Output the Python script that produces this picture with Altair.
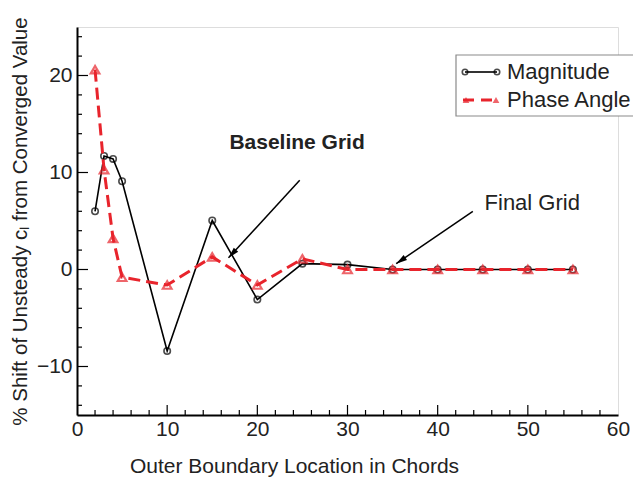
import altair as alt
import pandas as pd

# Outer boundary distance (chords) and % shift of unsteady lift coefficient
boundary = [2, 3, 4, 5, 10, 15, 20, 25, 30, 35, 40, 45, 50, 55]
magnitude = [6.0, 11.7, 11.4, 9.1, -8.4, 5.05, -3.1, 0.6, 0.5, 0.0, 0.0, 0.0, 0.0, 0.0]
phase_angle = [20.6, 10.3, 3.2, -0.8, -1.6, 1.3, -1.6, 1.1, 0.0, 0.0, 0.0, 0.0, 0.0, 0.0]

x_labels = [0, 10, 20, 30, 40, 50, 60]
y_labels = [-10, 0, 10, 20]
x_minor = list(range(2, 60, 2))
y_minor = list(range(-14, 25, 2))

W, H = 541, 388
FONT = "Liberation Sans"
INK = "#222222"
RED = "#e8242c"

df = pd.DataFrame({"x": boundary, "mag": magnitude, "phase": phase_angle})

xs = alt.Scale(domain=[0, 60], nice=False, zero=False)
ys = alt.Scale(domain=[-15, 25], nice=False, zero=False)

x_axis = alt.Axis(
    values=x_labels, ticks=False, grid=False, domainColor="black", domainWidth=2,
    labelFont=FONT, labelFontSize=21, labelColor=INK, labelPadding=3, labelFlush=False,
    title="Outer Boundary Location in Chords", titleFont=FONT, titleFontSize=21,
    titleFontWeight="normal", titleColor=INK, titleX=217, titleY=51,
    titleAlign="center", titleBaseline="middle",
)
y_axis = alt.Axis(
    values=y_labels, ticks=False, grid=False, domainColor="black", domainWidth=2,
    labelFont=FONT, labelFontSize=21, labelColor=INK, labelPadding=5, labelFlush=False,
    title="% Shift of Unsteady cₗ from Converged Value", titleFont=FONT,
    titleFontSize=20.5, titleFontWeight="normal", titleColor=INK, titleAngle=-90,
    titleX=-57, titleY=194, titleAlign="center", titleBaseline="middle",
)

base = alt.Chart(df)

mag_line = base.mark_line(color="black", strokeWidth=1.6).encode(
    x=alt.X("x:Q", scale=xs, axis=x_axis),
    y=alt.Y("mag:Q", scale=ys, axis=y_axis),
)
mag_pts = base.mark_point(shape="circle", filled=False, color="black", size=42, strokeWidth=1.6).encode(
    x=alt.X("x:Q", scale=xs), y=alt.Y("mag:Q", scale=ys)
)
ph_line = base.mark_line(color=RED, strokeWidth=3, strokeDash=[12, 6]).encode(
    x=alt.X("x:Q", scale=xs), y=alt.Y("phase:Q", scale=ys)
)
ph_pts = base.mark_point(shape="triangle-up", filled=False, color=RED, size=75, strokeWidth=2.2).encode(
    x=alt.X("x:Q", scale=xs), y=alt.Y("phase:Q", scale=ys)
)

# inward tick marks: long at multiples of 10, short elsewhere
xt = pd.DataFrame({"v": x_minor})
yt = pd.DataFrame({"v": y_minor})
x_major = xt[xt["v"] % 10 == 0]
x_short = xt[xt["v"] % 10 != 0]
y_major = yt[yt["v"] % 10 == 0]
y_short = yt[yt["v"] % 10 != 0]

x_ticks_minor = alt.Chart(x_short).mark_rule(color="black", strokeWidth=1.2).encode(
    x=alt.X("v:Q", scale=xs), y=alt.value(H), y2=alt.value(H - 5)
)
x_ticks_major = alt.Chart(x_major).mark_rule(color="black", strokeWidth=1.2).encode(
    x=alt.X("v:Q", scale=xs), y=alt.value(H), y2=alt.value(H - 10)
)
y_ticks_minor = alt.Chart(y_short).mark_rule(color="black", strokeWidth=1.2).encode(
    y=alt.Y("v:Q", scale=ys), x=alt.value(0), x2=alt.value(5)
)
y_ticks_major = alt.Chart(y_major).mark_rule(color="black", strokeWidth=1.2).encode(
    y=alt.Y("v:Q", scale=ys), x=alt.value(0), x2=alt.value(11)
)

# annotation arrows (tail -> head, data units)
arrows = pd.DataFrame({
    "x0": [24.7, 43.9], "y0": [9.2, 6.0],
    "x1": [16.8, 35.4], "y1": [1.2, 0.6],
    "ang": [223, 236],
})
arrow_shaft = alt.Chart(arrows).mark_rule(color="black", strokeWidth=1.5).encode(
    x=alt.X("x0:Q", scale=xs), y=alt.Y("y0:Q", scale=ys), x2="x1:Q", y2="y1:Q"
)
arrow_head = alt.Chart(arrows).mark_point(
    shape="M -0.6 2.2 L 0 0 L 0.6 2.2 Z", filled=True, color="black", opacity=1, size=100
).encode(x=alt.X("x1:Q", scale=xs), y=alt.Y("y1:Q", scale=ys), angle=alt.Angle("ang:Q", scale=None))

notes = pd.DataFrame({
    "x": [16.9, 45.2], "y": [13.0, 6.9],
    "label": ["Baseline Grid", "Final Grid"], "weight": ["bold", "normal"],
})
note_bold = alt.Chart(notes[notes["weight"] == "bold"]).mark_text(
    font=FONT, fontSize=21, fontWeight="bold", color=INK, align="left", baseline="middle"
).encode(x=alt.X("x:Q", scale=xs), y=alt.Y("y:Q", scale=ys), text="label:N")
note_plain = alt.Chart(notes[notes["weight"] == "normal"]).mark_text(
    font=FONT, fontSize=22, color=INK, align="left", baseline="middle"
).encode(x=alt.X("x:Q", scale=xs), y=alt.Y("y:Q", scale=ys), text="label:N")

# legend box
one = pd.DataFrame({"k": [0]})
leg = alt.Chart(one)
leg_box = leg.mark_rect(fill="white", stroke="#8a8a8a", strokeWidth=1.2).encode(
    x=alt.value(379), x2=alt.value(620), y=alt.value(28), y2=alt.value(89)
)
leg_mag_line = leg.mark_rule(color="black", strokeWidth=1.6).encode(
    x=alt.value(388), x2=alt.value(420), y=alt.value(45)
)
leg_mag_pts = alt.Chart(pd.DataFrame({"px": [388, 420]})).mark_point(
    shape="circle", filled=False, color="black", size=30, strokeWidth=1.6
).encode(x=alt.X("px:Q", scale=None), y=alt.value(45))
leg_ph_line = leg.mark_rule(color=RED, strokeWidth=3, strokeDash=[11, 7]).encode(
    x=alt.value(386), x2=alt.value(420), y=alt.value(73)
)
leg_ph_pts = alt.Chart(pd.DataFrame({"px": [389, 419]})).mark_point(
    shape="triangle-up", filled=True, color=RED, size=45
).encode(x=alt.X("px:Q", scale=None), y=alt.value(73))
leg_text = alt.Chart(pd.DataFrame({"t": ["Magnitude", "Phase Angle"], "py": [45, 73]})).mark_text(
    font=FONT, fontSize=22, color=INK, align="left", baseline="middle"
).encode(x=alt.value(430), y=alt.Y("py:Q", scale=None), text="t:N")

chart = alt.layer(
    mag_line, x_ticks_minor, x_ticks_major, y_ticks_minor, y_ticks_major,
    mag_pts, ph_line, ph_pts,
    arrow_shaft, arrow_head, note_bold, note_plain,
    leg_box, leg_mag_line, leg_mag_pts, leg_ph_line, leg_ph_pts, leg_text,
).properties(
    width=W, height=H,
    autosize=alt.AutoSizeParams(type="none"),
    padding={"left": 77, "top": 27, "right": 15, "bottom": 65},
).configure_view(stroke=None).configure(background="white")

chart.save("out.html", embed_options={"renderer": "svg", "actions": False})
